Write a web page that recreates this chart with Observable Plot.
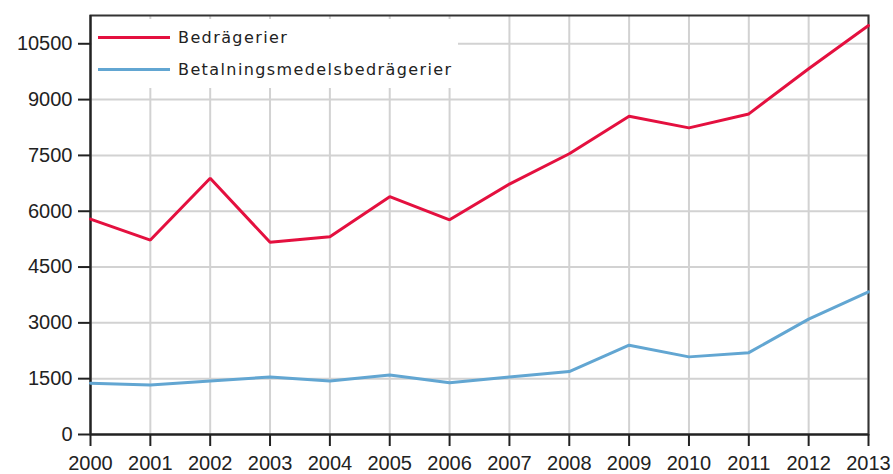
<!DOCTYPE html>
<html>
<head>
<meta charset="utf-8">
<script src="https://cdn.jsdelivr.net/npm/d3@7"></script>
<script src="https://cdn.jsdelivr.net/npm/@observablehq/plot@0.6"></script>
<style>
  html, body { margin: 0; padding: 0; background: #fff; }
  #wrap { position: relative; width: 893px; height: 474px; }
  #legend {
    position: absolute; left: 92px; top: 19px; width: 366px; height: 69px;
    background: #fff; font-family: "DejaVu Sans", sans-serif; font-size: 16px;
    letter-spacing: 1.4px; color: #222;
  }
  .item { position: absolute; left: 6px; display: flex; align-items: center; }
  .sw { width: 72px; height: 3px; margin-right: 8px; }
</style>
</head>
<body>
<div id="wrap">
  <div id="chart"></div>
  <div id="legend"></div>
</div>
<script>
const years = [2000, 2001, 2002, 2003, 2004, 2005, 2006, 2007, 2008, 2009, 2010, 2011, 2012, 2013];
const bedragerier = [5790, 5225, 6885, 5165, 5315, 6390, 5770, 6730, 7545, 8555, 8240, 8615, 9830, 10990];
const betalningsmedel = [1380, 1330, 1440, 1545, 1440, 1600, 1392, 1545, 1690, 2400, 2086, 2200, 3100, 3835];
const seriesNames = ["Bedrägerier", "Betalningsmedelsbedrägerier"];
const seriesColors = ["#e4103f", "#62a6d2"];
const yTicks = [0, 1500, 3000, 4500, 6000, 7500, 9000, 10500];

const data = [];
years.forEach((y, i) => {
  data.push({year: y, value: bedragerier[i], series: seriesNames[0]});
  data.push({year: y, value: betalningsmedel[i], series: seriesNames[1]});
});

const chart = Plot.plot({
  width: 893,
  height: 474,
  marginLeft: 90,
  marginRight: 25,
  marginTop: 15,
  marginBottom: 40,
  style: {fontFamily: "Liberation Sans, Arial, sans-serif", fontSize: "20px", color: "#222", background: "#fff"},
  x: {domain: [2000, 2013], label: null},
  y: {domain: [0, 11260], label: null},
  color: {domain: seriesNames, range: seriesColors},
  marks: [
    Plot.gridX(years, {stroke: "#d2d2d2", strokeOpacity: 1, strokeWidth: 2}),
    Plot.gridY(yTicks, {stroke: "#d2d2d2", strokeOpacity: 1, strokeWidth: 2}),
    Plot.frame({stroke: "#333", strokeWidth: 2}),
    Plot.axisX({ticks: years, tickFormat: "d", tickSize: 12, tickPadding: 9, stroke: "#222", strokeWidth: 2, color: "#222"}),
    Plot.axisY({ticks: yTicks, tickFormat: "d", tickSize: 12, tickPadding: 6, stroke: "#222", strokeWidth: 2}),
    Plot.ruleY([0], {stroke: "#222", strokeWidth: 2}),
    Plot.ruleX([2000], {stroke: "#222", strokeWidth: 2}),
    Plot.line(data, {x: "year", y: "value", z: "series", stroke: "series", strokeWidth: 3, strokeLinejoin: "miter"})
  ]
});
document.getElementById("chart").appendChild(chart);

const legend = document.getElementById("legend");
seriesNames.forEach((name, i) => {
  const item = document.createElement("div");
  item.className = "item";
  item.style.top = (i === 0 ? 9 : 41) + "px";
  const sw = document.createElement("div");
  sw.className = "sw";
  sw.style.background = seriesColors[i];
  const label = document.createElement("span");
  label.textContent = name;
  item.appendChild(sw);
  item.appendChild(label);
  legend.appendChild(item);
});
</script>
</body>
</html>
